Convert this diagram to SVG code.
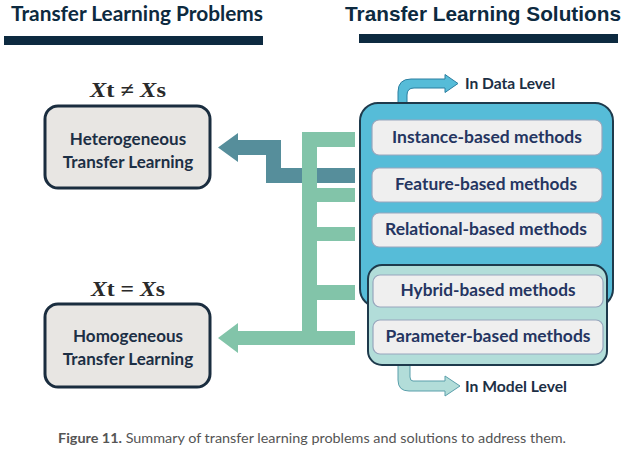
<svg xmlns="http://www.w3.org/2000/svg" width="630" height="456" viewBox="0 0 630 456">
<style>
.title{font-family:Lato,"Open Sans",sans-serif;font-weight:700;font-size:21px;fill:#0d2a40}
.title2{font-family:"Liberation Sans",Arial,sans-serif;font-weight:700;font-size:21px;fill:#0d2a40}
.bar{fill:#0d2a40}
.prob{fill:#e8e6e3;stroke:#1a2d3f;stroke-width:3}
.ptext{font-family:Lato,"Open Sans",sans-serif;font-weight:700;font-size:17px;fill:#1c2f45;text-anchor:middle}
.math{font-family:"Liberation Serif","DejaVu Serif",serif;font-weight:700;font-size:21px;fill:#2a2a2a;text-anchor:middle}
.meth{fill:#efefef;stroke:#97a6bd;stroke-width:1.2}
.mtext{font-family:Lato,"Open Sans",sans-serif;font-weight:700;font-size:17.5px;fill:#253561;text-anchor:middle}
.lvl{font-family:Lato,"Open Sans",sans-serif;font-weight:700;font-size:15px;fill:#1c2f45}
.green{fill:#82c4a9}
.cap{font-family:Lato,"Noto Sans",sans-serif;font-size:14px;fill:#555}
</style>
<rect width="630" height="456" fill="#fff"/>
<g id="headers">
<text class="title" x="11" y="21" textLength="252" lengthAdjust="spacingAndGlyphs">Transfer Learning Problems</text>
<rect class="bar" x="4" y="36" width="259" height="9"/>
<text class="title2" x="345" y="21" textLength="276" lengthAdjust="spacingAndGlyphs">Transfer Learning Solutions</text>
<rect class="bar" x="359" y="34" width="259" height="9"/>
</g>
<g id="connectors">
<polygon fill="#568e9b" points="355,168 355,183 266,183 266,155 238,155 238,162 218,147.5 238,133 238,140 281,140 281,168"/>
<rect class="green" x="302" y="132" width="15" height="213"/>
<rect class="green" x="302" y="132" width="53" height="15"/>
<rect class="green" x="302" y="188" width="53" height="14"/>
<rect class="green" x="302" y="227" width="53" height="14"/>
<rect class="green" x="302" y="285" width="53" height="15"/>
<polygon class="green" points="355,331 355,345 238,345 238,353 218,338 238,323 238,331"/>
</g>
<g id="hetero">
<text class="math" x="128" y="97" textLength="76" lengthAdjust="spacingAndGlyphs"><tspan font-style="italic">X</tspan>t ≠ <tspan font-style="italic">X</tspan>s</text>
<rect class="prob" x="45" y="106" width="165" height="82" rx="13"/>
<text class="ptext" x="128" y="145">Heterogeneous</text>
<text class="ptext" x="128" y="168">Transfer Learning</text>
</g>
<g id="homo">
<text class="math" x="128" y="296" textLength="74" lengthAdjust="spacingAndGlyphs"><tspan font-style="italic">X</tspan>t = <tspan font-style="italic">X</tspan>s</text>
<rect class="prob" x="45" y="304" width="165" height="83" rx="13"/>
<text class="ptext" x="128" y="342">Homogeneous</text>
<text class="ptext" x="128" y="365">Transfer Learning</text>
</g>
<g id="data-level">
<path d="M398,104 L398,92 Q398,79 411,79 L445,79 L445,74.5 L458,83.5 L445,92.5 L445,88 L414,88 Q407,88 407,95 L407,104 Z" fill="#56bcd8" stroke="#2b7ea0" stroke-width="1"/>
<text class="lvl" x="465" y="89" textLength="90" lengthAdjust="spacingAndGlyphs">In Data Level</text>
</g>
<g id="data-box">
<rect x="360" y="103" width="253" height="204" rx="18" fill="#56bcd8" stroke="#1e3a4c" stroke-width="2"/>
</g>
<g id="model-level">
<path d="M398,364 L398,380 Q398,391 409,391 L445,391 L445,396 L460,386 L445,376 L445,381 L413,381 Q410,381 410,377 L410,364 Z" fill="#b2ddd9" stroke="#5a9fab" stroke-width="1"/>
<text class="lvl" x="465" y="392" textLength="102" lengthAdjust="spacingAndGlyphs">In Model Level</text>
</g>
<g id="model-box">
<rect x="368" y="265" width="239" height="100" rx="14" fill="#b2ddd9" stroke="#1e3a4c" stroke-width="2"/>
</g>
<g id="instance">
<rect class="meth" x="372" y="120" width="230" height="35" rx="7"/>
<text class="mtext" x="487" y="143" textLength="190" lengthAdjust="spacingAndGlyphs">Instance-based methods</text>
</g>
<g id="feature">
<rect class="meth" x="372" y="168" width="230" height="34" rx="7"/>
<text class="mtext" x="486" y="190" textLength="182" lengthAdjust="spacingAndGlyphs">Feature-based methods</text>
</g>
<g id="relational">
<rect class="meth" x="372" y="213" width="230" height="34" rx="7"/>
<text class="mtext" x="486" y="235" textLength="202" lengthAdjust="spacingAndGlyphs">Relational-based methods</text>
</g>
<g id="hybrid">
<rect class="meth" x="373" y="275" width="230" height="32" rx="7"/>
<text class="mtext" x="488" y="296" textLength="175" lengthAdjust="spacingAndGlyphs">Hybrid-based methods</text>
</g>
<g id="parameter">
<rect class="meth" x="373" y="320" width="230" height="34" rx="7"/>
<text class="mtext" x="488" y="342" textLength="205" lengthAdjust="spacingAndGlyphs">Parameter-based methods</text>
</g>
<g id="caption">
<text class="cap" x="58" y="443" textLength="508" lengthAdjust="spacingAndGlyphs"><tspan font-weight="700">Figure 11.</tspan> Summary of transfer learning problems and solutions to address them.</text>
</g>
</svg>
